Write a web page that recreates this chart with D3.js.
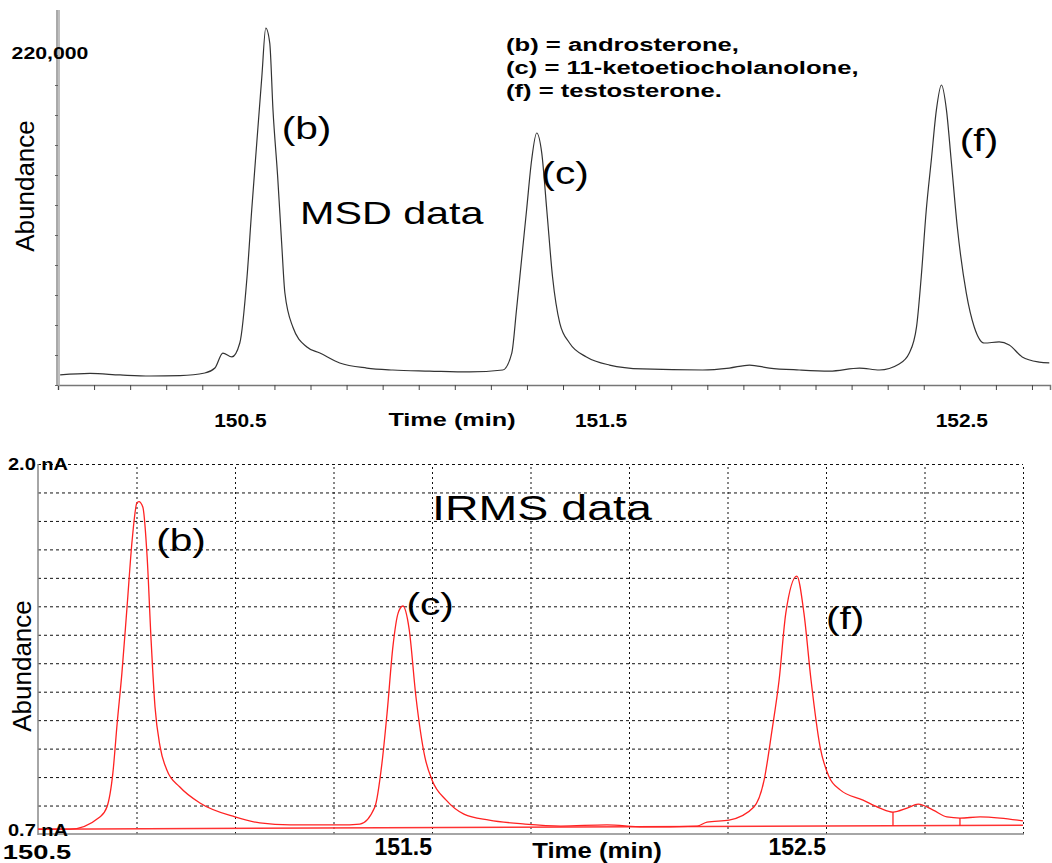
<!DOCTYPE html>
<html>
<head>
<meta charset="utf-8">
<script src="https://cdn.jsdelivr.net/npm/d3@7"></script>
<style>
  body { margin: 0; background: #fff; }
  text { font-family: "Liberation Sans", Arial, sans-serif; fill: #000; }
</style>
</head>
<body>
<div id="chart"></div>
<script>
(function() {
  'use strict'

  // ---- data ----
  // MSD trace (top): time in min, abundance in counts
  var msdTime = [150.006, 150.089, 150.172, 150.255, 150.338, 150.407, 150.435, 150.457, 150.482, 150.504,
    150.524, 150.537, 150.551, 150.565, 150.576, 150.587, 150.596, 150.609, 150.620, 150.629,
    150.651, 150.690, 150.726, 150.781, 150.856, 150.928, 151.030, 151.141, 151.233, 151.258,
    151.271, 151.285, 151.299, 151.313, 151.327, 151.341, 151.355, 151.371, 151.391, 151.418,
    151.465, 151.529, 151.620, 151.787, 151.861, 151.917, 151.972, 152.055, 152.139, 152.222,
    152.277, 152.332, 152.360, 152.380, 152.393, 152.407, 152.421, 152.435, 152.449, 152.463,
    152.476, 152.493, 152.518, 152.540, 152.568, 152.609, 152.637, 152.673, 152.720, 152.748]
  var msdAbund = [6700, 7700, 6700, 6000, 6300, 8000, 11300, 21300, 18700, 28000,
    72000, 116700, 161300, 205300, 238000, 228000, 183300, 138700, 94700, 61300,
    38700, 25300, 21300, 14700, 11300, 10000, 9300, 8700, 10000, 21300,
    50000, 83300, 116700, 150000, 168000, 154700, 116700, 72000, 41300, 28000,
    18700, 13300, 10700, 10000, 11300, 13300, 11300, 10000, 9300, 11300,
    10000, 14000, 21300, 38700, 72000, 116700, 150000, 183300, 200000, 183300,
    150000, 105300, 61300, 38700, 28000, 28700, 26700, 18700, 15300, 14700]

  // IRMS trace (bottom): time in min, current in nA
  var irmsTime = [150.500, 150.581, 150.657, 150.675, 150.690, 150.701, 150.713, 150.726, 150.739, 150.751,
    150.756, 150.766, 150.777, 150.787, 150.797, 150.810, 150.827, 150.860, 150.911, 151.000,
    151.063, 151.140, 151.216, 151.264, 151.317, 151.355, 151.373, 151.386, 151.401, 151.414,
    151.426, 151.442, 151.459, 151.482, 151.500, 151.536, 151.581, 151.645, 151.736, 151.827,
    151.944, 152.036, 152.173, 152.198, 152.254, 152.317, 152.343, 152.363, 152.381, 152.398,
    152.426, 152.444, 152.462, 152.485, 152.508, 152.536, 152.594, 152.637, 152.670, 152.706,
    152.734, 152.772, 152.807, 152.840, 152.891, 152.942, 153.000]
  var irmsCurrent = [0.717, 0.717, 0.760, 0.795, 0.914, 1.090, 1.266, 1.498, 1.733, 1.863,
    1.868, 1.849, 1.673, 1.382, 1.146, 1.006, 0.925, 0.865, 0.809, 0.760,
    0.739, 0.732, 0.732, 0.732, 0.735, 0.795, 0.949, 1.125, 1.361, 1.476,
    1.501, 1.420, 1.185, 0.970, 0.890, 0.819, 0.770, 0.749, 0.735, 0.728,
    0.732, 0.725, 0.728, 0.742, 0.749, 0.795, 0.890, 1.065, 1.241, 1.476,
    1.606, 1.476, 1.241, 1.006, 0.900, 0.855, 0.819, 0.791, 0.777, 0.791,
    0.805, 0.784, 0.760, 0.756, 0.760, 0.756, 0.746]
  // IRMS background line and integration markers
  var baseTime = [150.5, 153.0]
  var baseVal = [0.717, 0.731]
  var markTime = [152.670, 152.840]
  var markVal = [0.777, 0.756]

  // labels
  var msdTickLabels = [150.5, 151.5, 152.5]
  var irmsTickLabels = [150.5, 151.5, 152.5]
  var legendLines = ["(b) = androsterone,", "(c) = 11-ketoetiocholanolone,", "(f) = testosterone."]
  var msdPeaks = [["(b)", 150.62, 128], ["(c)", 151.34, 173], ["(f)", 152.50, 140]]
  var irmsPeaks = [["(b)", 150.80, 540], ["(c)", 151.435, 604], ["(f)", 152.50, 618]]

  // ---- SVG setup ----
  var width = 1052, height = 863
  var svg = d3.select("#chart").append("svg")
    .attr("width", width)
    .attr("height", height)

  // text in the source image is stretched sideways, so scale it
  function txt(g, s, x, y, size, weight, sx, rot, anchor) {
    return g.append("text")
      .attr("transform", "translate(" + x + "," + y + ") scale(" + sx + ",1)" + (rot ? " rotate(" + rot + ")" : ""))
      .attr("text-anchor", anchor || "middle")
      .attr("dominant-baseline", "central")
      .style("font-size", size + "px")
      .style("font-weight", weight)
      .text(s)
  }

  // ===== top panel: MSD =====
  var top = svg.append("g")
  var xTop = d3.scaleLinear().domain([150, 152.75]).range([58, 1050])
  var yTop = d3.scaleLinear().domain([0, 220000]).range([385, 55])

  // x axis ticks every 0.1 min
  top.append("g")
    .attr("transform", "translate(0,385)")
    .call(d3.axisBottom(xTop).tickValues(d3.range(150, 152.76, 0.1)).tickSize(5).tickFormat(""))
    .call(function(g) {
      g.select(".domain").attr("stroke", "#777").attr("stroke-width", 1.5)
      g.selectAll(".tick line").attr("stroke", "#444")
    })

  // y axis: double grey line with small ticks
  top.append("g")
    .attr("transform", "translate(58,0)")
    .call(d3.axisLeft(yTop).tickValues(d3.range(0, 220001, 20000)).tickSize(3).tickFormat(""))
    .call(function(g) {
      g.select(".domain").remove()
      g.selectAll(".tick line").attr("stroke", "#666")
    })
  top.append("line").attr("x1", 57).attr("x2", 57).attr("y1", 10).attr("y2", 386)
    .attr("stroke", "#555").attr("stroke-width", 1)
  top.append("line").attr("x1", 59).attr("x2", 59).attr("y1", 10).attr("y2", 386)
    .attr("stroke", "#aaa").attr("stroke-width", 1.5)

  var msdLine = d3.line()
    .x(function(d, i) { return xTop(msdTime[i]) })
    .y(function(d) { return yTop(d) })
    .curve(d3.curveMonotoneX)
  top.append("path")
    .datum(msdAbund)
    .attr("d", msdLine)
    .attr("fill", "none")
    .attr("stroke", "#333")
    .attr("stroke-width", 1.2)

  txt(top, "220,000", 50, yTop(220000) - 2, 17, "bold", 1.25)
  txt(top, "Abundance", 25, 186, 26, "normal", 1.0, -90)
  msdTickLabels.forEach(function(v) {
    txt(top, String(v), xTop(v) + 2, 420, 19, "bold", 1.1)
  })
  txt(top, "Time (min)", 452, 420, 19, "bold", 1.33)
  legendLines.forEach(function(s, i) {
    txt(top, s, 506, 45 + i * 23, 19, "bold", 1.35, null, "start")
  })
  msdPeaks.forEach(function(p) {
    txt(top, p[0], xTop(p[1]), p[2], 32, "normal", 1.27, null, "start")
  })
  txt(top, "MSD data", 300, 213, 32, "normal", 1.29, null, "start")

  // ===== bottom panel: IRMS =====
  var bot = svg.append("g")
  var xBot = d3.scaleLinear().domain([150.5, 153.0]).range([38, 1023])
  var yBot = d3.scaleLinear().domain([0.7, 2.0]).range([834, 464])

  // dashed grid
  bot.append("g")
    .attr("transform", "translate(0,834)")
    .call(d3.axisBottom(xBot).tickValues(d3.range(150.75, 153.01, 0.25)).tickSize(-370).tickFormat(""))
    .call(function(g) {
      g.select(".domain").remove()
      g.selectAll(".tick line").attr("stroke", "#111").attr("stroke-dasharray", "2,3")
    })
  bot.append("g")
    .attr("transform", "translate(38,0)")
    .call(d3.axisLeft(yBot).tickValues(d3.range(0.8, 2.01, 0.1)).tickSize(-985).tickFormat(""))
    .call(function(g) {
      g.select(".domain").remove()
      g.selectAll(".tick line").attr("stroke", "#111").attr("stroke-dasharray", "3,3")
    })
  // frame axes
  bot.append("line").attr("x1", 38).attr("x2", 38).attr("y1", 464).attr("y2", 835)
    .attr("stroke", "#888").attr("stroke-width", 1.5)
  bot.append("line").attr("x1", 38).attr("x2", 1024).attr("y1", 834).attr("y2", 834)
    .attr("stroke", "#888").attr("stroke-width", 1.5)

  // background line
  var baseLine = d3.line()
    .x(function(d, i) { return xBot(baseTime[i]) })
    .y(function(d) { return yBot(d) })
  bot.append("path").datum(baseVal).attr("d", baseLine)
    .attr("fill", "none").attr("stroke", "#f33").attr("stroke-width", 1.5)

  // integration markers
  bot.selectAll(".mark").data(markTime).enter().append("line")
    .attr("class", "mark")
    .attr("x1", function(d) { return xBot(d) })
    .attr("x2", function(d) { return xBot(d) })
    .attr("y1", function(d, i) { return yBot(markVal[i]) })
    .attr("y2", function(d) {
      var t = (d - baseTime[0]) / (baseTime[1] - baseTime[0])
      return yBot(baseVal[0] + t * (baseVal[1] - baseVal[0]))
    })
    .attr("stroke", "#f22").attr("stroke-width", 1.3)

  var irmsLine = d3.line()
    .x(function(d, i) { return xBot(irmsTime[i]) })
    .y(function(d) { return yBot(d) })
    .curve(d3.curveMonotoneX)
  bot.append("path")
    .datum(irmsCurrent)
    .attr("d", irmsLine)
    .attr("fill", "none")
    .attr("stroke", "#f22")
    .attr("stroke-width", 1.3)

  txt(bot, "2.0 nA", 38, yBot(2.0), 17, "bold", 1.18)
  txt(bot, "0.7 nA", 38, yBot(0.7) - 4, 17, "bold", 1.18)
  txt(bot, "Abundance", 22, 666, 26, "normal", 1.0, -90)
  irmsTickLabels.forEach(function(v, i) {
    if (i === 0) txt(bot, String(v), 37, 852, 21, "bold", 1.3)
    else txt(bot, String(v), xBot(v), 847, 23, "bold", 1.0, null, "end")
  })
  txt(bot, "Time (min)", 597, 850, 22, "bold", 1.17)
  irmsPeaks.forEach(function(p) {
    txt(bot, p[0], xBot(p[1]), p[2], 32, "normal", 1.27, null, "start")
  })
  txt(bot, "IRMS data", 432, 508, 35, "normal", 1.33, null, "start")
})()
</script>
</body>
</html>
